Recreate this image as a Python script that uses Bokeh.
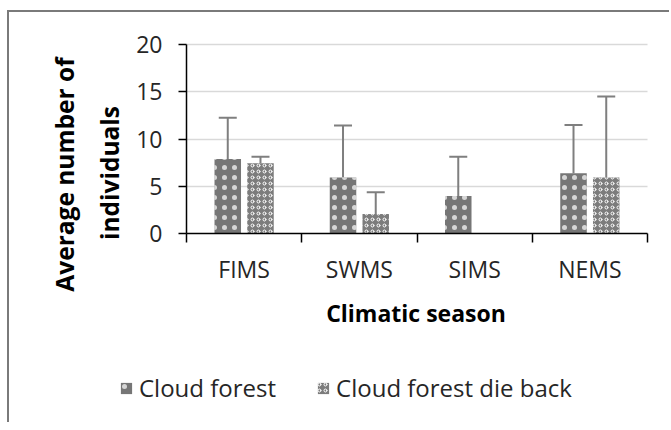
import math
from bokeh.plotting import figure
from bokeh.layouts import column
from bokeh.models import (Range1d, FixedTicker, ColumnDataSource, Whisker, TeeHead,
                          Legend, LegendItem, Label)
from bokeh.embed import file_html
from bokeh.resources import INLINE

# ---- data ----
seasons = ["FIMS", "SWMS", "SIMS", "NEMS"]
cloud_forest = [7.9, 5.95, 4.0, 6.4]
cloud_forest_sd = [4.35, 5.5, 4.15, 5.1]
die_back = [7.45, 2.1, 0.0, 5.95]
die_back_sd = [0.7, 2.3, 0.0, 8.55]
y_ticks = [0, 5, 10, 15, 20]
series_names = ["Cloud forest", "Cloud forest die back"]
y_title_lines = ["Average number of", "individuals"]
x_title = "Climatic season"

FONT = "Open Sans"
GREY = "#7f7f7f"
CF_STYLE = dict(fill_color="#767676", line_color=None, hatch_pattern="dot",
                hatch_color="white", hatch_scale=10, hatch_weight=0.7, hatch_alpha=0.7)
DB_STYLE = dict(fill_color="#7c7c7c", line_color=None, hatch_pattern="ring",
                hatch_color="white", hatch_scale=6, hatch_weight=1)

# ---- layout (pixels) ----
W, H = 660, 410                     # canvas; it sits at page (9, 12)
OX, OY = 9, 12
AX_L, AX_R, AX_T, AX_B = 186, 647, 44, 233.3   # plot area in page pixels
n = len(seasons)
ymax = y_ticks[-1]
xpu = (AX_R - AX_L) / n
ypu = (AX_B - AX_T) / ymax
x_rng = Range1d(-(AX_L - OX) / xpu, n + (OX + W - AX_R) / xpu)
y_rng = Range1d(-(OY + H - AX_B) / ypu, ymax + (AX_T - OY) / ypu)

idx = list(range(n))
offset = 0.142
bar_w = 0.23
cf_x = [i + 0.5 - offset for i in idx]
db_x = [i + 0.5 + offset for i in idx]

src_cf = ColumnDataSource(dict(x=cf_x, top=cloud_forest,
                               upper=[v + e for v, e in zip(cloud_forest, cloud_forest_sd)]))
src_db = ColumnDataSource(dict(x=db_x, top=die_back,
                               upper=[v + e for v, e in zip(die_back, die_back_sd)]))
keep = [k for k, v in enumerate(die_back) if v > 0]
src_db_err = ColumnDataSource(dict(x=[db_x[k] for k in keep],
                                   top=[die_back[k] for k in keep],
                                   upper=[die_back[k] + die_back_sd[k] for k in keep]))

p = figure(width=W, height=H, output_backend="svg", toolbar_location=None,
           x_range=x_rng, y_range=y_rng,
           min_border=0, min_border_left=0, min_border_right=0,
           min_border_top=0, min_border_bottom=0)
p.outline_line_color = None
p.background_fill_color = "white"
p.border_fill_color = "white"

r_cf = p.vbar(x="x", top="top", width=bar_w, bottom=0, source=src_cf, **CF_STYLE)
r_db = p.vbar(x="x", top="top", width=bar_w, bottom=0, source=src_db, **DB_STYLE)

for s in (src_cf, src_db_err):
    w = Whisker(base="x", lower="top", upper="upper", source=s, dimension="height",
                line_color=GREY, line_width=2,
                upper_head=TeeHead(size=18, line_color=GREY, line_width=2),
                lower_head=None)
    p.add_layout(w)

# x axis at y = 0, inside the canvas
xa = p.xaxis[0]
xa.fixed_location = 0
xa.bounds = (0, n)
xa.ticker = FixedTicker(ticks=[i + 0.5 for i in idx], minor_ticks=[i for i in range(n + 1)])
xa.major_label_overrides = {i + 0.5: s for i, s in zip(idx, seasons)}
xa.major_tick_out = 0
xa.major_tick_in = 0
xa.minor_tick_out = 9
xa.minor_tick_in = 0
xa.minor_tick_line_color = "black"
xa.minor_tick_line_width = 1.5
xa.axis_line_color = "black"
xa.axis_line_width = 1.5
xa.major_label_standoff = 10
xa.major_label_text_font = FONT
xa.major_label_text_font_size = "23px"
xa.major_label_text_color = "#262626"

# y axis at x = 0
ya = p.yaxis[0]
ya.fixed_location = 0
ya.bounds = (0, ymax)
ya.ticker = FixedTicker(ticks=y_ticks)
ya.major_tick_out = 8
ya.major_tick_in = 0
ya.minor_tick_line_color = None
ya.major_tick_line_color = "black"
ya.major_tick_line_width = 1.5
ya.axis_line_color = "black"
ya.axis_line_width = 1.5
ya.major_label_standoff = 16
ya.major_label_text_font = FONT
ya.major_label_text_font_size = "23px"
ya.major_label_text_color = "#262626"

p.xgrid.grid_line_color = None
p.ygrid.ticker = FixedTicker(ticks=y_ticks[1:])
p.ygrid.bounds = (0, ymax)
try:
    p.ygrid.cross_bounds = (0, n)
except Exception:
    pass
p.ygrid.grid_line_color = "#d9d9d9"
p.ygrid.grid_line_width = 1.5


def sx(page_x):
    return page_x - OX


def sy(page_y):
    return OY + H - page_y


# titles
p.add_layout(Label(x=sx(415.5), y=sy(312), x_units="screen", y_units="screen", text=x_title,
                   text_align="center", text_baseline="middle", text_font=FONT,
                   text_font_size="23px", text_font_style="bold", text_color="#000000"))
for text, px, py in ((y_title_lines[0], 63.5, 174), (y_title_lines[1], 108.5, 172.5)):
    p.add_layout(Label(x=sx(px), y=sy(py), x_units="screen", y_units="screen", text=text,
                       angle=math.pi / 2, text_align="center", text_baseline="middle",
                       text_font=FONT, text_font_size="24.5px",
                       text_font_style="bold", text_color="#000000"))

legend = Legend(items=[LegendItem(label=series_names[0], renderers=[r_cf]),
                       LegendItem(label=series_names[1], renderers=[r_db])],
                location=(sx(119), 18), orientation="horizontal",
                glyph_width=14, glyph_height=14, label_standoff=6, spacing=40,
                padding=0, margin=0, border_line_color=None, background_fill_alpha=0,
                label_text_font=FONT, label_text_font_size="24px", label_text_color="#262626")
p.add_layout(legend, "center")

layout = column(p, spacing=0,
                styles={"border-top": "2px solid #7a7a7a", "border-left": "2px solid #7a7a7a",
                        "margin-top": "10px", "margin-left": "7px"})

open("out.html", "w").write(file_html(layout, INLINE))
